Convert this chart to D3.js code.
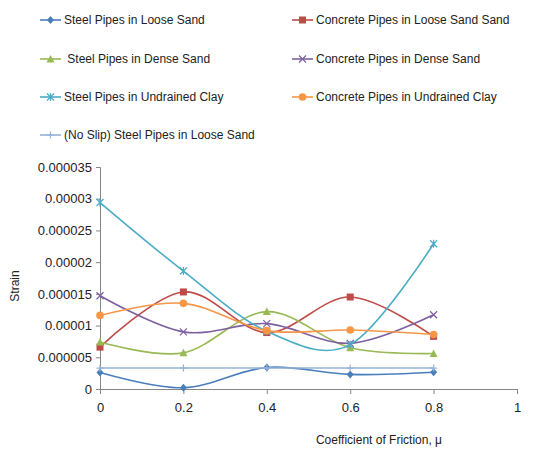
<!DOCTYPE html>
<html>
<head>
<meta charset="utf-8">
<script src="https://cdn.jsdelivr.net/npm/d3@7"></script>
<style>
  body { margin: 0; background: #fff; }
  text { font-family: "Liberation Sans", Arial, sans-serif; fill: #222; }
</style>
</head>
<body>
<div id="chart"></div>
<script>
const friction = [0, 0.2, 0.4, 0.6, 0.8];
const xTicks = [0, 0.2, 0.4, 0.6, 0.8, 1];
const yTicks = [0, 0.000005, 0.00001, 0.000015, 0.00002, 0.000025, 0.00003, 0.000035];

const steelLoose = [2.6e-6, 0.2e-6, 3.4e-6, 2.3e-6, 2.65e-6];
const concreteLoose = [6.6e-6, 15.3e-6, 8.9e-6, 14.5e-6, 8.3e-6];
const steelDense = [7.4e-6, 5.7e-6, 12.2e-6, 6.5e-6, 5.6e-6];
const concreteDense = [14.7e-6, 9.0e-6, 10.3e-6, 7.2e-6, 11.7e-6];
const steelClay = [29.4e-6, 18.6e-6, 9.1e-6, 7.0e-6, 22.9e-6];
const concreteClay = [11.6e-6, 13.5e-6, 9.2e-6, 9.3e-6, 8.6e-6];
const noSlipSteelLoose = [3.3e-6, 3.3e-6, 3.3e-6, 3.3e-6, 3.3e-6];

const seriesNames = [
  "Steel Pipes in Loose Sand",
  "Concrete Pipes in Loose Sand Sand",
  " Steel Pipes in Dense Sand",
  "Concrete Pipes in Dense Sand",
  "Steel Pipes in Undrained Clay",
  "Concrete Pipes in Undrained Clay",
  "(No Slip) Steel Pipes in Loose Sand"
];

const series = [
  {name: seriesNames[0], values: steelLoose, color: "#4a7ebb", marker: "diamond"},
  {name: seriesNames[1], values: concreteLoose, color: "#be4b48", marker: "square"},
  {name: seriesNames[2], values: steelDense, color: "#98b954", marker: "triangle"},
  {name: seriesNames[3], values: concreteDense, color: "#7d60a0", marker: "cross"},
  {name: seriesNames[4], values: steelClay, color: "#4bacc6", marker: "star"},
  {name: seriesNames[5], values: concreteClay, color: "#f79646", marker: "circle"},
  {name: seriesNames[6], values: noSlipSteelLoose, color: "#95b3d7", marker: "plus"}
];

const width = 537, height = 457;
const plot = {left: 100, right: 517, top: 167, bottom: 389};

const svg = d3.select("#chart").append("svg")
    .attr("width", width)
    .attr("height", height);

const x = d3.scaleLinear().domain([0, 1]).range([plot.left, plot.right]);
const y = d3.scaleLinear().domain([0, 0.000035]).range([plot.bottom, plot.top]);

// axes
const xAxis = svg.append("g")
    .attr("transform", `translate(0,${plot.bottom})`)
    .call(d3.axisBottom(x).tickValues(xTicks).tickSize(5).tickPadding(9)
      .tickFormat(d => d === 0 ? "0" : d === 1 ? "1" : d3.format(".1f")(d)));

const yAxis = svg.append("g")
    .attr("transform", `translate(${plot.left},0)`)
    .call(d3.axisLeft(y).tickValues(yTicks).tickSize(4).tickPadding(4)
      .tickFormat(d => d === 0 ? "0" : d.toFixed(6).replace(/0+$/, "")));

[xAxis, yAxis].forEach(g => {
  g.select(".domain").attr("stroke", "#868686");
  g.selectAll(".tick line").attr("stroke", "#868686");
  g.selectAll("text").style("font-size", "13px").attr("fill", "#222");
});

svg.append("text")
    .attr("transform", `translate(19,${(plot.top + plot.bottom) / 2 + 8}) rotate(-90)`)
    .attr("text-anchor", "middle")
    .style("font-size", "12px")
    .text("Strain");

svg.append("text")
    .attr("x", 442)
    .attr("y", 444)
    .attr("text-anchor", "end")
    .style("font-size", "12px")
    .text("Coefficient of Friction, μ");

function drawMarker(g, type, color, cx, cy) {
  const s = 3.5;
  if (type === "diamond") {
    g.append("path").attr("d", `M${cx},${cy - s - 0.5}L${cx + s},${cy}L${cx},${cy + s + 0.5}L${cx - s},${cy}Z`).attr("fill", color);
  } else if (type === "square") {
    g.append("rect").attr("x", cx - s).attr("y", cy - s).attr("width", 2 * s).attr("height", 2 * s).attr("fill", color);
  } else if (type === "triangle") {
    g.append("path").attr("d", `M${cx},${cy - s - 0.5}L${cx + s + 0.5},${cy + s}L${cx - s - 0.5},${cy + s}Z`).attr("fill", color);
  } else if (type === "circle") {
    g.append("circle").attr("cx", cx).attr("cy", cy).attr("r", s + 0.3).attr("fill", color);
  } else if (type === "cross") {
    g.append("path").attr("d", `M${cx - s},${cy - s}L${cx + s},${cy + s}M${cx - s},${cy + s}L${cx + s},${cy - s}`)
      .attr("stroke", color).attr("stroke-width", 1.2).attr("fill", "none");
  } else if (type === "star") {
    g.append("path").attr("d", `M${cx - s},${cy - s}L${cx + s},${cy + s}M${cx - s},${cy + s}L${cx + s},${cy - s}M${cx},${cy - s - 0.5}L${cx},${cy + s + 0.5}`)
      .attr("stroke", color).attr("stroke-width", 1.2).attr("fill", "none");
  } else if (type === "plus") {
    g.append("path").attr("d", `M${cx - s},${cy}L${cx + s},${cy}M${cx},${cy - s}L${cx},${cy + s}`)
      .attr("stroke", color).attr("stroke-width", 1.2).attr("fill", "none");
  }
}

const line = d3.line()
    .x((d, i) => x(friction[i]))
    .y(d => y(d))
    .curve(d3.curveCardinal.tension(0));

const lines = svg.append("g");
series.forEach(s => {
  const g = lines.append("g");
  g.append("path")
      .attr("d", line(s.values))
      .attr("fill", "none")
      .attr("stroke", s.color)
      .attr("stroke-width", 1.6);
  s.values.forEach((v, i) => drawMarker(g, s.marker, s.color, x(friction[i]), y(v)));
});

// legend
const legendCols = [{line: 40, text: 64}, {line: 292, text: 316}];
const legendRows = [20, 59, 97, 135];
const legend = svg.append("g");
series.forEach((s, i) => {
  const col = legendCols[i % 2];
  const rowY = legendRows[Math.floor(i / 2)];
  const g = legend.append("g");
  g.append("line")
      .attr("x1", col.line).attr("x2", col.line + 21)
      .attr("y1", rowY).attr("y2", rowY)
      .attr("stroke", s.color).attr("stroke-width", 1.6);
  drawMarker(g, s.marker, s.color, col.line + 10.5, rowY);
  g.append("text")
      .attr("x", col.text)
      .attr("y", rowY + 4)
      .style("font-size", "12px")
      .style("white-space", "pre")
      .text(s.name);
});
</script>
</body>
</html>
